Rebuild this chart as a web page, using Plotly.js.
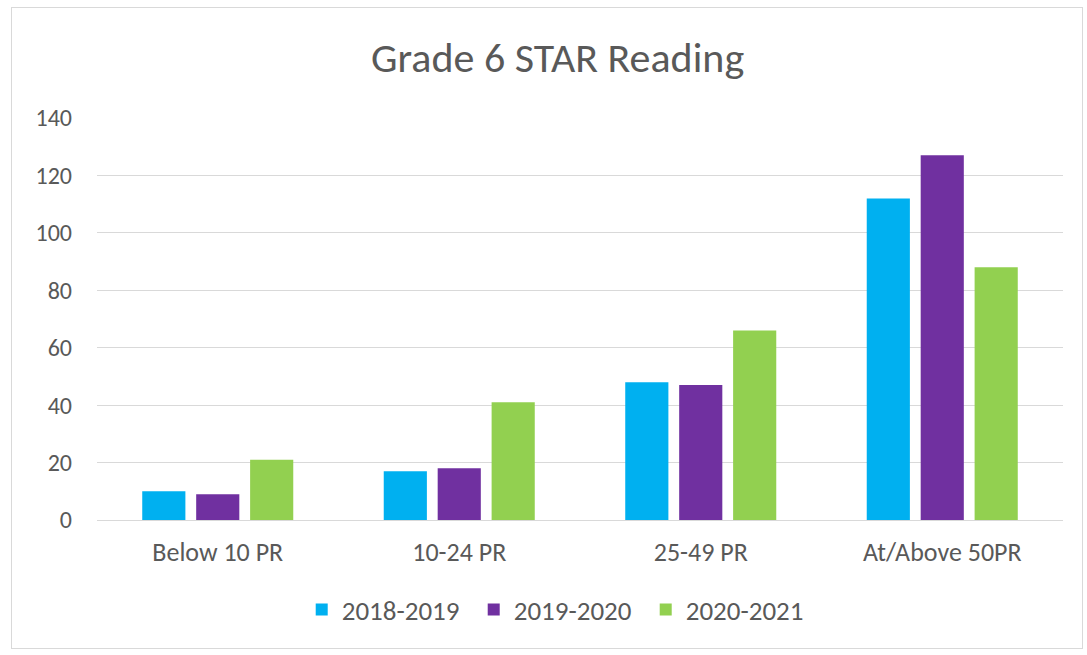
<!DOCTYPE html>
<html>
<head>
<meta charset="utf-8">
<script src="https://cdn.plot.ly/plotly-3.0.1.min.js"></script>
<style>
html,body{margin:0;padding:0;background:#fff;}
#frame{position:absolute;left:11px;top:7px;width:1072px;height:642px;border:1px solid #d9d9d9;box-sizing:border-box;}
#chart{position:absolute;left:0;top:0;width:1087px;height:655px;}
</style>
</head>
<body>
<div id="frame"></div>
<div id="chart"></div>
<script>
const categories = ["Below 10 PR", "10-24 PR", "25-49 PR", "At/Above 50PR"];
const seriesNames = ["2018-2019", "2019-2020", "2020-2021"];
const values2018 = [10, 17, 48, 112];
const values2019 = [9, 18, 47, 127];
const values2020 = [21, 41, 66, 88];
const colors = ["#00b0f0", "#7030a0", "#92d050"];

const allValues = [values2018, values2019, values2020];
const traces = allValues.map((v, i) => ({
  type: "bar",
  name: seriesNames[i],
  x: categories,
  y: v,
  marker: {color: colors[i]},
  hoverinfo: "x+y+name"
}));

const font = "Calibri, Carlito, Lato, 'Open Sans', 'Noto Sans', sans-serif";
const layout = {
  width: 1087,
  height: 655,
  paper_bgcolor: "rgba(0,0,0,0)",
  plot_bgcolor: "rgba(0,0,0,0)",
  margin: {l: 97, r: 24, t: 118, b: 135},
  title: {
    text: "Grade 6 STAR Reading",
    x: 0.513, xanchor: "center",
    y: 0.913, yanchor: "middle",
    font: {family: font, size: 42, color: "#595959"}
  },
  barmode: "group",
  bargap: 0.33,
  bargroupgap: 0.2,
  xaxis: {
    showgrid: false,
    showline: true,
    linecolor: "#d9d9d9",
    linewidth: 1,
    ticks: "",
    tickfont: {family: font, size: 26, color: "#595959"},
    ticklabelstandoff: 9
  },
  yaxis: {
    range: [0, 140],
    dtick: 20,
    showgrid: true,
    gridcolor: "#d9d9d9",
    gridwidth: 1,
    zeroline: true,
    zerolinecolor: "#d9d9d9",
    showline: false,
    ticks: "",
    tickfont: {family: font, size: 24, color: "#595959"},
    ticklabelstandoff: 24
  },
  showlegend: true,
  legend: {
    orientation: "h",
    x: 0.479, xanchor: "center",
    y: -0.224, yanchor: "middle",
    font: {family: font, size: 27, color: "#595959"},
    itemwidth: 30,
    entrywidth: 127,
    entrywidthmode: "pixels",
    traceorder: "normal"
  }
};

Plotly.newPlot("chart", traces, layout, {displayModeBar: false});
</script>
</body>
</html>
